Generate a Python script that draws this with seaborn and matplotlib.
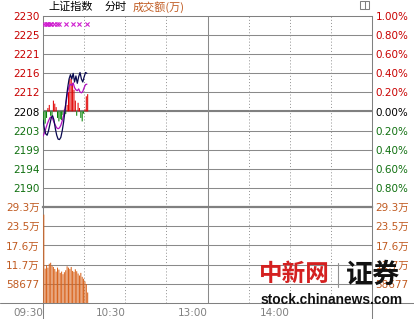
import matplotlib
matplotlib.use("Agg")
import matplotlib.pyplot as plt
from matplotlib.lines import Line2D
from matplotlib.patches import Rectangle
import pandas as pd
import seaborn as sns

# ---------------- data ----------------
minutes = list(range(33))
price = [2206.0, 2204.0, 2202.8, 2202.5, 2203.5, 2205.0, 2206.5, 2207.0, 2206.0, 2204.0,
         2202.5, 2201.6, 2201.5, 2202.0, 2203.5, 2205.5, 2208.0, 2211.0, 2213.5, 2215.5,
         2216.5, 2215.5, 2216.8, 2214.8, 2216.2, 2214.5, 2216.0, 2217.0, 2215.5, 2214.8,
         2216.0, 2217.0, 2216.8]
avg_price = [2202.3, 2203.0, 2204.0, 2205.0, 2205.8, 2206.5, 2206.8, 2206.3, 2205.5, 2204.8,
             2204.2, 2204.0, 2204.2, 2204.8, 2205.8, 2207.0, 2208.5, 2210.5, 2212.5, 2213.8,
             2214.3, 2214.0, 2214.6, 2213.5, 2213.0, 2212.8, 2213.2, 2212.5, 2212.3, 2212.6,
             2213.5, 2214.2, 2214.3]
strength = [-3.0, -2.8, -1.5, 0.8, 1.5, -1.0, -1.2, 2.5, 1.8, 1.0, -1.5, -2.3, -1.8, -2.0,
            -0.8, 0.5, -0.6, 1.5, 4.5, 7.5, 8.0, 6.5, 5.0, 2.5, -1.0, 2.0, 0.8, -1.5, -2.3,
            -0.5, 0.5, 3.5, 4.0]
volume = [270000, 105000, 116000, 108000, 120000, 123000, 114000, 110000, 104000, 96000,
          108000, 102000, 92000, 96000, 88000, 94000, 100000, 112000, 108000, 104000,
          110000, 98000, 95000, 103000, 97000, 90000, 84000, 92000, 80000, 74000,
          66000, 58000, 32000]
marker_minutes = [1, 2, 3, 4, 5, 6, 8, 10, 12, 17, 22, 26, 32]
marker_price = 2228.1

prev_close = 2208.0
price_labels = ["2230", "2225", "2221", "2216", "2212", "2208", "2203", "2199", "2194", "2190"]
pct_values = [1.0, 0.8, 0.6, 0.4, 0.2, 0.0, -0.2, -0.4, -0.6, -0.8]
pct_labels = ["1.00%", "0.80%", "0.60%", "0.40%", "0.20%", "0.00%", "0.20%", "0.40%", "0.60%", "0.80%"]
vol_step = 58677
vol_labels = ["29.3万", "23.5万", "17.6万", "11.7万", "58677"]
time_labels = ["09:30", "10:30", "13:00", "14:00"]
time_label_minutes = [0, 60, 120, 180]
grid_minutes = [30, 60, 90, 120, 150, 180, 210]
session_break = 120
total_minutes = 240

# ---------------- style ----------------
sns.set_theme(style="white")
plt.rcParams["font.family"] = ["DejaVu Sans", "Noto Sans CJK SC"]

RED = "#C80000"
GREEN = "#107010"
ORANGE_T = "#C05A20"
ORANGE_B = "#D8641E"
GRID = "#8A8A8A"
LBL = 7.5
BAR_W = 0.75
BAR_SHIFT = 0.2   # visual nudge so bars sit just right of the axis line

W, H = 414, 319
def fx(px):
    return px / W
def fy(py):
    return 1 - py / H

fig = plt.figure(figsize=(W / 100 + 0.001, H / 100 + 0.001), dpi=100)
L, R, T, M, B = 43, 372, 16, 207, 303
ax_p = fig.add_axes([fx(L), fy(M), fx(R) - fx(L), fy(T) - fy(M)])
ax_v = fig.add_axes([fx(L), fy(B), fx(R) - fx(L), fy(M) - fy(B)])

step = prev_close * 0.002
price_ticks = [prev_close + step * (5 - i) for i in range(len(price_labels))]

def sign_color(v, ref):
    if abs(v - ref) < 1e-9:
        return "black"
    return RED if v > ref else GREEN

# ---- price panel ----
df = pd.DataFrame({"minute": minutes, "price": price, "avg": avg_price, "strength": strength})
pbars = ax_p.bar(df["minute"] + BAR_SHIFT, df["strength"], bottom=prev_close, width=BAR_W,
                 align="edge", color=["#E00000" if s > 0 else "#008000" for s in strength],
                 linewidth=0, zorder=3)
for p in pbars:
    p.set_snap(False)
sns.lineplot(data=df, x="minute", y="avg", ax=ax_p, color="#B010C0", lw=0.9, zorder=4)
sns.lineplot(data=df, x="minute", y="price", ax=ax_p, color="#0A0A50", lw=0.9, zorder=5)
sns.scatterplot(x=marker_minutes, y=[marker_price] * len(marker_minutes), ax=ax_p,
                marker="x", s=9, color="#D020D0", linewidth=0.8, zorder=5)

ax_p.set_xlim(0, total_minutes)
ax_p.set_ylim(prev_close - 5 * step, prev_close + 5 * step)
ax_p.set_yticks(price_ticks)
ax_p.set_yticklabels(price_labels)
for lbl, v in zip(ax_p.get_yticklabels(), price_ticks):
    lbl.set_color(sign_color(round(v, 6), prev_close))
ax_p.set_xticks([])
ax_p.set_xlabel("")
ax_p.set_ylabel("")
ax_p.tick_params(axis="y", length=0, pad=2.5, labelsize=LBL)
for t in price_ticks[1:]:
    ax_p.axhline(t, color=GRID, lw=0.75, zorder=1)
ax_p.axhline(prev_close, color="#808080", lw=1.5, zorder=1)

ax_p2 = ax_p.twinx()
ax_p2.set_ylim(-1.0, 1.0)
ax_p2.set_yticks(pct_values)
ax_p2.set_yticklabels(pct_labels)
for lbl, v in zip(ax_p2.get_yticklabels(), pct_values):
    lbl.set_color(sign_color(v, 0.0))
ax_p2.tick_params(axis="y", length=0, pad=2.5, labelsize=LBL)
ax_p2.grid(False)

# ---- volume panel ----
dfv = pd.DataFrame({"minute": minutes, "volume": volume})
vbars = ax_v.bar(dfv["minute"] + BAR_SHIFT, dfv["volume"], width=BAR_W, align="edge",
                 color=ORANGE_B, linewidth=0, zorder=3)
for p in vbars:
    p.set_snap(False)
vol_ticks = [vol_step * (5 - i) for i in range(len(vol_labels))]
ax_v.set_xlim(0, total_minutes)
ax_v.set_ylim(0, vol_step * 5)
ax_v.set_yticks(vol_ticks)
ax_v.set_yticklabels(vol_labels)
for lbl in ax_v.get_yticklabels():
    lbl.set_color(ORANGE_T)
ax_v.set_xticks(time_label_minutes)
ax_v.set_xticklabels(time_labels)
for lbl in ax_v.get_xticklabels():
    lbl.set_ha("right")
    lbl.set_color("#808080")
ax_v.tick_params(axis="y", length=0, pad=2.5, labelsize=LBL)
ax_v.tick_params(axis="x", length=0, pad=3.2, labelsize=LBL)
ax_v.set_xlabel("")
ax_v.set_ylabel("")
for t in vol_ticks[1:]:
    ax_v.axhline(t, color=GRID, lw=0.75, zorder=1)

ax_v2 = ax_v.twinx()
ax_v2.set_ylim(0, vol_step * 5)
ax_v2.set_yticks(vol_ticks)
ax_v2.set_yticklabels(vol_labels)
for lbl in ax_v2.get_yticklabels():
    lbl.set_color(ORANGE_T)
ax_v2.tick_params(axis="y", length=0, pad=2.5, labelsize=LBL)
ax_v2.grid(False)

# vertical grid
for ax in (ax_p, ax_v):
    for m in grid_minutes:
        if m == session_break:
            ax.axvline(m, color=GRID, lw=0.75, zorder=1)
        else:
            ax.axvline(m, color="#909090", lw=0.7, ls=(0, (1, 2.2)), zorder=1)

# spines
for ax in (ax_p, ax_v, ax_p2, ax_v2):
    for s in ax.spines.values():
        s.set_visible(False)
for s in ("left", "right", "top"):
    ax_p.spines[s].set_visible(True)
    ax_p.spines[s].set_color("#808080")
    ax_p.spines[s].set_linewidth(0.75)
    ax_p.spines[s].set_zorder(1)
for s in ("left", "right"):
    ax_v.spines[s].set_visible(True)
    ax_v.spines[s].set_color("#808080")
    ax_v.spines[s].set_linewidth(0.75)
    ax_v.spines[s].set_zorder(1)
ax_v.spines["top"].set_visible(True)
ax_v.spines["top"].set_color("#808080")
ax_v.spines["top"].set_linewidth(1.6)

# frame extras
fig.add_artist(Line2D([0, 1], [fy(B), fy(B)], color="#808080", lw=0.75))
fig.add_artist(Line2D([fx(L), fx(L)], [fy(B), 0], color="#808080", lw=0.75))
fig.add_artist(Line2D([fx(R), fx(R)], [fy(B), 0], color="#808080", lw=0.75))
fig.add_artist(Rectangle((fx(360), fy(9)), fx(9), fy(1) - fy(9), fill=False,
                         edgecolor="#808080", lw=0.75))
fig.add_artist(Line2D([fx(364.5), fx(364.5)], [fy(9), fy(1)], color="#808080", lw=0.75))

# header
fig.text(fx(48), fy(7), "上证指数", fontsize=8, color="black",
         family=["Noto Sans CJK SC", "DejaVu Sans"], va="center", ha="left")
fig.text(fx(105), fy(7), "分时", fontsize=8, color="black",
         family=["Noto Sans CJK SC", "DejaVu Sans"], va="center", ha="left")
fig.text(fx(133), fy(7), "成交额(万)", fontsize=8, color=ORANGE_T,
         family=["Noto Sans CJK SC", "DejaVu Sans"], va="center", ha="left")

# watermark
fig.text(fx(259), fy(274), "中新网", fontsize=17, color="#D42020", fontweight="bold",
         family=["Noto Sans CJK SC"], va="center", ha="left")
fig.add_artist(Line2D([fx(338), fx(338)], [fy(287), fy(263)], color="#909090", lw=0.8))
fig.text(fx(346), fy(275), "证券", fontsize=19.5, color="#111111", fontweight="bold",
         family=["Noto Sans CJK SC"], va="center", ha="left")
fig.text(fx(260), fy(300), "stock.chinanews.com", fontsize=9.9, color="#111111",
         fontweight="bold", family=["Liberation Sans"], va="center", ha="left")

fig.savefig("out.png", dpi=100, facecolor="white")
